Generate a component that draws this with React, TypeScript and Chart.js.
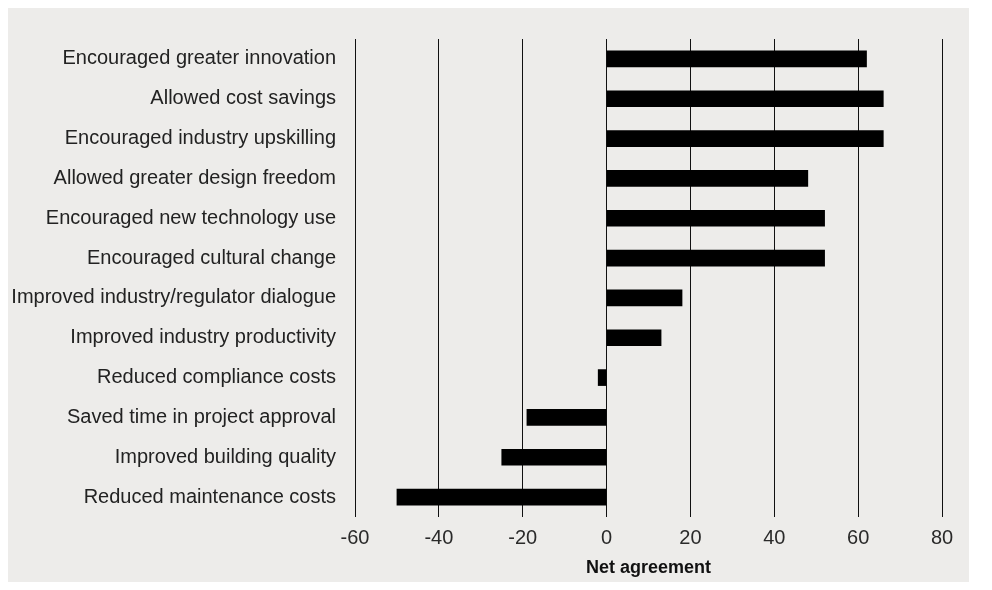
import React, { useEffect, useRef } from "react";
import { Chart, registerables } from "chart.js";

Chart.register(...registerables);

const categories = [
  "Encouraged greater innovation",
  "Allowed cost savings",
  "Encouraged industry upskilling",
  "Allowed greater design freedom",
  "Encouraged new technology use",
  "Encouraged cultural change",
  "Improved industry/regulator dialogue",
  "Improved industry productivity",
  "Reduced compliance costs",
  "Saved time in project approval",
  "Improved building quality",
  "Reduced maintenance costs",
];

const netAgreement = [62, 66, 66, 48, 52, 52, 18, 13, -2, -19, -25, -50];

const xMin = -60;
const xMax = 80;
const xStep = 20;
const xTitle = "Net agreement";

const FONT = "'Liberation Sans', Arial, sans-serif";

export default function App() {
  const ref = useRef<HTMLCanvasElement | null>(null);

  useEffect(() => {
    if (!ref.current) return;
    const chart = new Chart(ref.current, {
      type: "bar",
      data: {
        labels: categories,
        datasets: [
          {
            data: netAgreement,
            backgroundColor: "#000000",
            borderWidth: 0,
            barThickness: 16,
          },
        ],
      },
      options: {
        indexAxis: "y",
        animation: false,
        responsive: true,
        maintainAspectRatio: false,
        layout: { padding: { top: 30, right: 27, left: 0, bottom: 3 } },
        plugins: {
          legend: { display: false },
          tooltip: { enabled: false },
        },
        scales: {
          x: {
            min: xMin,
            max: xMax,
            afterFit: (scale: any) => {
              scale.height = 62;
            },
            ticks: {
              stepSize: xStep,
              color: "#2a2a2a",
              padding: 9,
              font: { family: FONT, size: 20 },
            },
            grid: {
              color: "#111111",
              lineWidth: 1,
              drawTicks: false,
            },
            border: { display: false },
            title: {
              display: true,
              text: xTitle,
              color: "#111111",
              font: { family: FONT, size: 18, weight: "bold" },
              padding: { top: 7, bottom: 0 },
            },
          },
          y: {
            afterFit: (scale: any) => {
              scale.width = 347;
            },
            ticks: {
              color: "#222222",
              padding: 19,
              font: { family: FONT, size: 20 },
            },
            grid: { display: false, drawTicks: false },
            border: { display: false },
          },
        },
      },
    });
    return () => chart.destroy();
  }, []);

  return (
    <div style={{ width: 961, height: 574, background: "#edecea" }}>
      <canvas ref={ref} />
    </div>
  );
}
